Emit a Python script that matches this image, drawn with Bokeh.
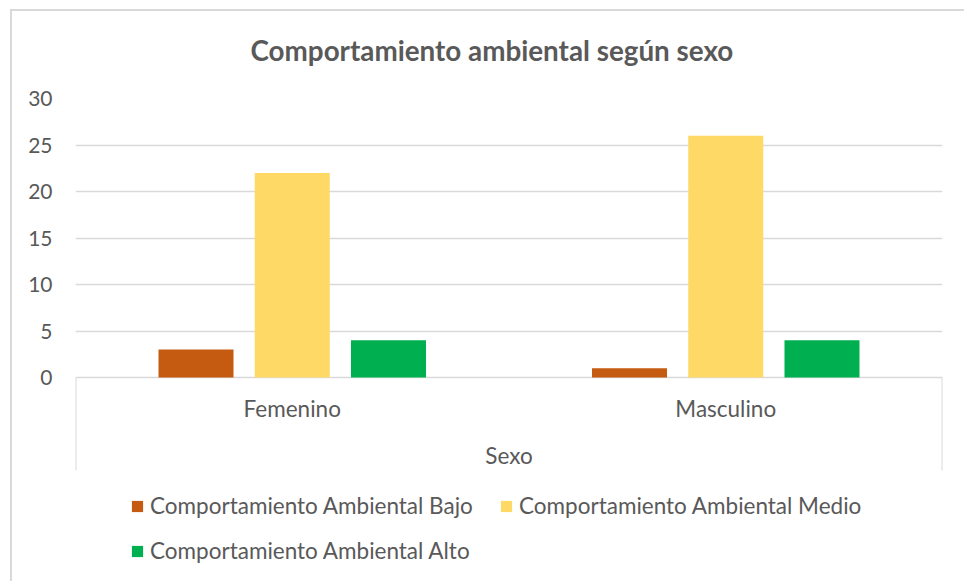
from bokeh.plotting import figure
from bokeh.models import FactorRange, ColumnDataSource, FixedTicker, Legend, LegendItem, Title
from bokeh.core.properties import value
from bokeh.transform import dodge
from bokeh.embed import file_html
from bokeh.resources import INLINE

categories = ["Femenino", "Masculino"]
series_names = ["Comportamiento Ambiental Bajo", "Comportamiento Ambiental Medio",
                "Comportamiento Ambiental Alto"]
bajo = [3, 1]
medio = [22, 26]
alto = [4, 4]
y_ticks = [0, 5, 10, 15, 20, 25, 30]
x_title = "Sexo"

colors = ["#C55A11", "#FFD966", "#00B050"]
FONT = "Lato"
GRAY = "#595959"
LINE = "#d9d9d9"

W, H = 964, 581
frame_left, frame_right, frame_top = 75, 942, 98
zero_px, box_bottom_px = 377, 470
ppu = (zero_px - frame_top) / max(y_ticks)          # pixels per unit
y_min = -(H - zero_px) / ppu                        # frame reaches the canvas bottom
box_bottom = -(box_bottom_px - zero_px) / ppu

src = ColumnDataSource(dict(cat=categories, bajo=bajo, medio=medio, alto=alto))

p = figure(width=W, height=H, x_range=FactorRange(*categories, range_padding=0),
           y_range=(y_min, max(y_ticks)), output_backend="svg", toolbar_location=None,
           x_axis_location=None,
           min_border_left=frame_left, min_border_right=W - frame_right,
           min_border_top=frame_top, min_border_bottom=0)
p.outline_line_color = None
p.background_fill_color = "white"
p.border_fill_color = None
p.styles = {"background": ("linear-gradient(#d9d9d9,#d9d9d9) 10px 9px / 2px calc(100% - 9px) no-repeat, "
                           "linear-gradient(#d9d9d9,#d9d9d9) 10px 9px / calc(100% - 10px) 2px no-repeat, "
                           "#ffffff")}

fields = ["bajo", "medio", "alto"]
offsets = [-0.222, 0.0, 0.222]
renderers = []
for f, off, c in zip(fields, offsets, colors):
    r = p.vbar(x=dodge("cat", off, range=p.x_range), top=f, width=0.173, bottom=0,
               source=src, fill_color=c, line_color=None)
    renderers.append(r)

# category axis box lines at the range edges
edges = [0, len(categories)]
p.segment(x0=edges, x1=edges, y0=[0, 0], y1=[box_bottom, box_bottom],
          line_color=LINE, line_width=2)

# category labels and axis title
p.text(x=categories, y=[-(408 - zero_px) / ppu] * len(categories), text=categories,
       text_align="center", text_baseline="middle", text_font=value(FONT),
       text_font_size="22.5px", text_color=GRAY)
p.text(x=[len(categories) / 2], y=[-(455 - zero_px) / ppu], text=[x_title],
       text_align="center", text_baseline="middle", text_font=value(FONT),
       text_font_size="22.5px", text_color=GRAY)

# y axis
p.yaxis.ticker = FixedTicker(ticks=y_ticks)
p.yaxis.axis_line_color = None
p.yaxis.major_tick_line_color = None
p.yaxis.minor_tick_line_color = None
p.yaxis.major_label_text_font = FONT
p.yaxis.major_label_text_font_size = "21px"
p.yaxis.major_label_text_color = GRAY
p.yaxis.major_label_standoff = 17
p.ygrid.ticker = FixedTicker(ticks=y_ticks)
p.ygrid.grid_line_color = LINE
p.ygrid.grid_line_width = 1.3
p.xgrid.grid_line_color = None

# title
p.title = Title(text="Comportamiento ambiental según sexo", align="left", offset=175,
                text_font=FONT, text_font_size="27.8px", text_font_style="bold",
                text_color=GRAY, standoff=63)

# legend
items = [LegendItem(label=n, renderers=[r]) for n, r in zip(series_names, renderers)]
legend = Legend(items=items, location=(55, 17), orientation="horizontal", ncols=2,
                label_text_font=FONT, label_text_font_size="22.5px", label_text_color=GRAY,
                glyph_width=14, glyph_height=14, label_standoff=6, spacing=18,
                label_height=20, label_width=331,
                padding=0, margin=0, border_line_color=None, background_fill_alpha=0)
p.add_layout(legend, "center")

open("out.html", "w").write(file_html(p, INLINE))
